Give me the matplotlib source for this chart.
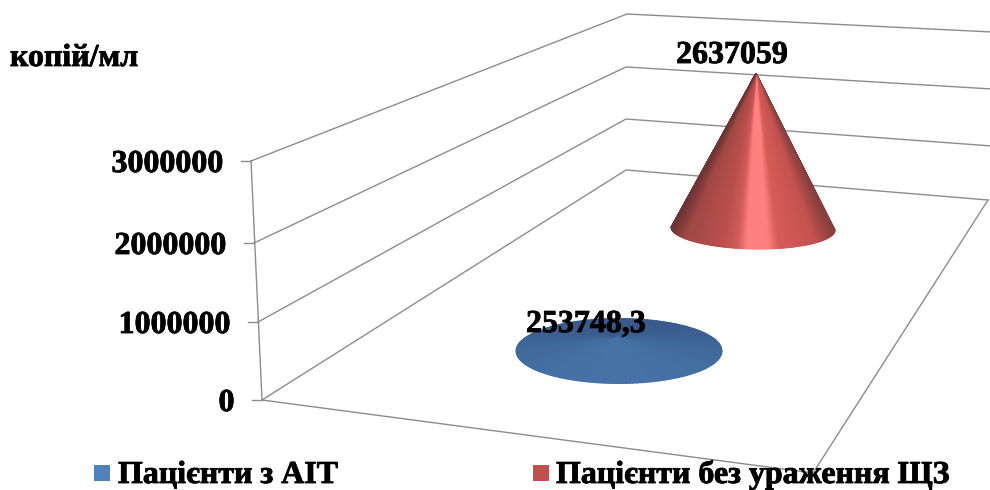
import numpy as np
import matplotlib
matplotlib.use('Agg')
import matplotlib.pyplot as plt
import matplotlib.patheffects as pe
from matplotlib.colors import LinearSegmentedColormap
from matplotlib.patches import Rectangle

# data
series_names = ['Пацієнти з АІТ', 'Пацієнти без ураження ЩЗ']
series_values = [253748.3, 2637059]
value_labels = ['253748,3', '2637059']
axis_ticks = [0, 1000000, 2000000, 3000000]
axis_labels = ['0', '1000000', '2000000', '3000000']
unit_label = 'копій/мл'

# layout of the fake 3d box, in pixels of the 990x490 picture
left_x = [262, 258, 254, 251]
left_y = [400, 322, 243, 161]
back_x = [626, 626, 626, 627]
back_y = [170, 119, 67, 14]
right_y = [200, 146, 89, 32]
right_x = [988, 992, 992, 992]
front_corner = (813, 473)
px_per_value = 58.9 / 1000000

plt.rcParams['font.family'] = ['Liberation Serif', 'DejaVu Serif']
plt.rcParams['font.weight'] = 'bold'

fig = plt.figure(figsize=(9.9, 4.9), dpi=100)
ax = fig.add_axes([0, 0, 1, 1])
ax.set_xlim(0, 990)
ax.set_ylim(490, 0)
ax.axis('off')

grid_col = '#8c8c8c'
fat = [pe.withStroke(linewidth=0.6, foreground='black')]

# walls
for i in range(len(axis_ticks)):
    ax.plot([left_x[i], back_x[i], right_x[i]], [left_y[i], back_y[i], right_y[i]],
            color=grid_col, lw=1.0, zorder=1)
    ax.plot([left_x[i] - 10, left_x[i]], [left_y[i], left_y[i]], color=grid_col, lw=1.0, zorder=1)
    ax.text(left_x[i] - 27.5, left_y[i], axis_labels[i], fontsize=23, ha='right',
            va='center_baseline', color='black', zorder=5, path_effects=fat)
ax.plot([left_x[0], left_x[-1]], [left_y[0], left_y[-1]], color=grid_col, lw=1.0, zorder=1)

# floor edges
ax.plot([left_x[0], front_corner[0], right_x[0]], [left_y[0], front_corner[1], right_y[0]],
        color=grid_col, lw=1.0, zorder=1)

red_cmap = LinearSegmentedColormap.from_list('red_cone', [
    (0.0, '#6e3534'), (0.08, '#a04845'), (0.3, '#bb4f4c'), (0.40, '#cf5c59'),
    (0.46, '#ff8080'), (0.59, '#ff8080'), (0.66, '#d65c58'), (0.88, '#c4524f'), (1.0, '#853f3e')])
blue_cmap = LinearSegmentedColormap.from_list('blue_cone', ['#38598a', '#3f6a9a', '#4672a8'])

# blue one is so low that the base is seen from above
cx, cy, ra, rb = 619, 351, 103, 32.5
apex_y = cy - series_values[0] * px_per_value
angles = np.linspace(0, 2 * np.pi, 181)
X = np.vstack([np.full_like(angles, cx - 4), cx + ra * np.cos(angles)])
Y = np.vstack([np.full_like(angles, apex_y), cy + rb * np.sin(angles)])
C = np.vstack([np.sin(angles), np.sin(angles)])
ax.pcolormesh(X, Y, C, shading='gouraud', cmap=blue_cmap, vmin=-1, vmax=1, zorder=2)

# red cone
cx, cy, ra, rb = 753, 228.5, 82, 20.5
apex_y = cy - series_values[1] * px_per_value
angles = np.linspace(0, np.pi, 161)
X = np.vstack([np.full_like(angles, 756), cx + ra * np.cos(angles)])
Y = np.vstack([np.full_like(angles, apex_y), cy + rb * np.sin(angles) + 1.5 * np.cos(angles)])
C = np.vstack([np.cos(angles), np.cos(angles)])
ax.pcolormesh(X, Y, C, shading='gouraud', cmap=red_cmap, vmin=-1, vmax=1, zorder=2)

# labels
ax.text(526, 332, value_labels[0], fontsize=23, ha='left', va='baseline', color='black', zorder=5, path_effects=fat)
ax.text(732, 63, value_labels[1], fontsize=23, ha='center', va='baseline', color='black', zorder=5, path_effects=fat)
ax.text(10, 66, unit_label, fontsize=23, ha='left', va='baseline', color='black', zorder=5, path_effects=fat)

# legend
ax.add_patch(Rectangle((94, 465), 16, 16, fc='#4f81bd', ec='none', zorder=5))
ax.add_patch(Rectangle((533, 465), 16, 16, fc='#c0504d', ec='none', zorder=5))
ax.text(118, 483, series_names[0], fontsize=23, ha='left', va='baseline', color='black', zorder=5, path_effects=fat)
ax.text(556, 483, series_names[1], fontsize=23, ha='left', va='baseline', color='black', zorder=5, path_effects=fat)

fig.savefig('out.png', dpi=100, facecolor='white')
